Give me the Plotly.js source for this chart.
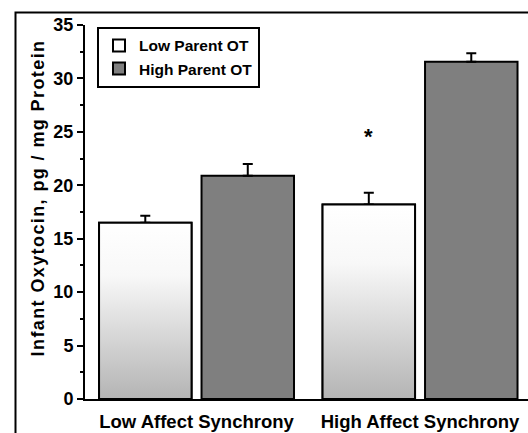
<!DOCTYPE html>
<html><head><meta charset="utf-8">
<script src="https://cdn.plot.ly/plotly-3.0.1.min.js"></script>
<style>html,body{margin:0;padding:0;background:#fff}#chart{width:528px;height:433px}
.ytitle-ann text{letter-spacing:1.4px}</style>
</head><body><div id="chart"></div>
<script>
// ---- data ----
const categories = ["Low Affect Synchrony", "High Affect Synchrony"];
const seriesNames = ["Low Parent OT", "High Parent OT"];
const lowParentOT = [16.5, 18.2];
const lowParentErr = [0.65, 1.1];
const highParentOT = [20.9, 31.55];
const highParentErr = [1.1, 0.8];
const starY = [null, 24.6]; // significance marker above the Low Parent OT bar
const yTickVals = [0, 5, 10, 15, 20, 25, 30, 35];
const yTitle = 'Infant Oxytocin, pg / mg Protein';

// ---- layout constants ----
const bargap = 0.083, bargroupgap = 0.0976;
const slot = (1 - bargap) / 2;
const barW = slot * (1 - bargroupgap);
const lowOffset = -slot / 2;
const xIdx = categories.map((c, i) => i);
const FONT = 'Liberation Sans, Arial, Helvetica, sans-serif';

const traces = [
  {type: 'bar', name: seriesNames[0], x: xIdx, y: lowParentOT,
   marker: {color: '#ffffff', line: {color: '#000', width: 2}},
   error_y: {type: 'data', array: lowParentErr, symmetric: false, arrayminus: [0,0], color: '#000', thickness: 2, width: 5}},
  {type: 'bar', name: seriesNames[1], x: xIdx, y: highParentOT,
   marker: {color: '#7f7f7f', line: {color: '#000', width: 2}},
   error_y: {type: 'data', array: highParentErr, symmetric: false, arrayminus: [0,0], color: '#000', thickness: 2, width: 5}}
];
// gradient fill for Low Parent OT bars, derived from the data values
lowParentOT.forEach((v, i) => {
  const c = i + lowOffset, x0 = c - barW / 2, x1 = c + barW / 2;
  traces.push({type: 'scatter', mode: 'lines', x: [x0, x1, x1, x0, x0], y: [0, 0, v, v, 0],
    fill: 'toself', line: {color: '#000', width: 2}, showlegend: false, hoverinfo: 'skip',
    fillgradient: {type: 'vertical', colorscale: [[0, '#b4b4b4'], [0.7, '#f8f8f8'], [1, '#ffffff']]}});
});

const W = 443, H = 374; // plot size in px
const annotations = starY.map((y, i) => y == null ? null : ({
  x: i + lowOffset, y: y, xref: 'x', yref: 'y', text: '*', showarrow: false,
  font: {family: FONT, size: 22, color: '#000', weight: 'bold'}
})).filter(a => a);
annotations.push({x: (38 - 85) / W, y: (399 - 198) / H, xref: 'paper', yref: 'paper', text: yTitle,
  textangle: -90, showarrow: false, xanchor: 'center', yanchor: 'middle',
  font: {family: FONT, size: 18, color: '#000', weight: 'bold'}});

const layout = {
  width: 528, height: 433,
  margin: {l: 85, r: 0, t: 25, b: 34},
  paper_bgcolor: '#fff', plot_bgcolor: '#fff',
  barmode: 'group', bargap: bargap, bargroupgap: bargroupgap,
  font: {family: FONT, color: '#000'},
  showlegend: true,
  legend: {x: 12 / W, y: 0.995, xanchor: 'left', yanchor: 'top', bgcolor: '#fff',
    bordercolor: '#000', borderwidth: 2, traceorder: 'normal',
    font: {size: 15.5, weight: 'bold', color: '#000'}, itemwidth: 30, tracegroupgap: 0},
  xaxis: {range: [-0.499, 1.483], tickvals: xIdx, ticktext: categories, showgrid: false, zeroline: false,
    showline: true, linecolor: '#000', linewidth: 2, ticks: '', ticklabelstandoff: 5,
    tickfont: {size: 18.5, weight: 'bold'}, fixedrange: true},
  yaxis: {range: [0, 35], tickvals: yTickVals, showgrid: false, zeroline: false,
    showline: true, linecolor: '#000', linewidth: 2, ticks: 'outside', ticklen: 6, tickwidth: 2, tickcolor: '#000',
    minor: {dtick: 2.5, ticks: 'outside', ticklen: 3, tickwidth: 2, tickcolor: '#000', showgrid: false},
    tickfont: {size: 18, weight: 'bold'}},
  annotations: annotations,
  shapes: [{type: 'rect', xref: 'paper', yref: 'paper', x0: (15.5 - 85) / W, x1: 1.05, y0: -0.2, y1: (399 - 12.5) / H,
    line: {color: '#000', width: 2}, fillcolor: 'rgba(0,0,0,0)', layer: 'above'}]
};
Plotly.newPlot('chart', traces, layout, {staticPlot: true}).then(gd => {
  const anns = gd.querySelectorAll('.annotation');
  anns[anns.length - 1].classList.add('ytitle-ann');
});
</script></body></html>
